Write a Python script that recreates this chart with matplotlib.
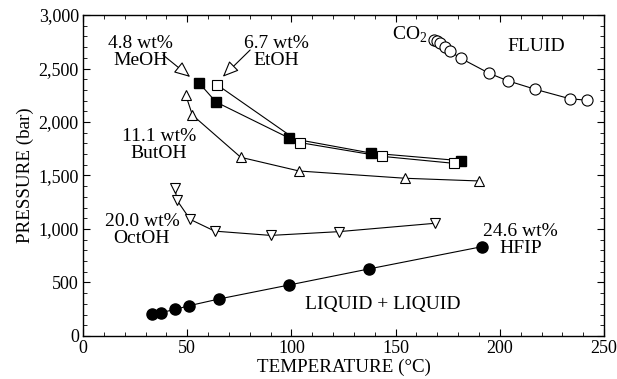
import matplotlib
matplotlib.use('Agg')
import matplotlib.pyplot as plt
from matplotlib.ticker import MultipleLocator, FuncFormatter

# Données (T en °C, P en bar)
meoh_t = [55.7, 63.8, 98.9, 138.1, 181.5]
meoh_p = [2365, 2187, 1850, 1710, 1638]

etoh_t = [64.5, 104.2, 143.4, 177.8]
etoh_p = [2346, 1807, 1679, 1614]

butoh_t = [49.3, 52.5, 75.7, 103.7, 154.7, 189.8]
butoh_p = [2252, 2065, 1670, 1542, 1474, 1449]

octoh_t = [44.2, 45.0, 51.4, 63.2, 90.1, 122.6, 168.7]
octoh_p = [1380, 1271, 1090, 980, 940, 975, 1053]

hfip_t = [32.9, 37.4, 44.3, 50.9, 65.3, 99.0, 137.0, 191.5]
hfip_p = [206, 218, 249, 283, 346, 477, 626, 835]

co2_t = [168.5, 170.0, 171.5, 173.8, 176.2, 181.3, 194.9, 203.7, 217.1, 233.5, 241.8]
co2_p = [2770, 2755, 2735, 2700, 2660, 2595, 2455, 2386, 2305, 2218, 2203]

plt.rcParams['font.family'] = ['Liberation Serif', 'DejaVu Serif']
plt.rcParams['font.size'] = 14

fig = plt.figure(figsize=(6.17, 3.79), dpi=100)
ax = fig.add_axes([0.1345, 0.1135, 0.979 - 0.1345, 0.9604 - 0.1135])

lw = 0.8
ax.plot(meoh_t, meoh_p, '-', color='black', lw=lw, marker='s', ms=7.5,
        mfc='black', mec='black', zorder=3)
ax.plot(etoh_t, etoh_p, '-', color='black', lw=lw, marker='s', ms=7.5,
        mfc='white', mec='black', mew=0.8, zorder=3)
ax.plot(butoh_t, butoh_p, '-', color='black', lw=lw, marker='^', ms=7,
        mfc='white', mec='black', mew=0.8, zorder=3)
ax.plot(octoh_t, octoh_p, '-', color='black', lw=lw, marker='v', ms=7,
        mfc='white', mec='black', mew=0.8, zorder=3)
ax.plot(hfip_t, hfip_p, '-', color='black', lw=lw, marker='o', ms=8,
        mfc='black', mec='black', zorder=3)
ax.plot(co2_t, co2_p, '-', color='black', lw=lw, marker='o', ms=8,
        mfc='white', mec='black', mew=0.8, zorder=3)

ax.set_xlim(0, 250)
ax.set_ylim(0, 3000)
ax.xaxis.set_major_locator(MultipleLocator(50))
ax.xaxis.set_minor_locator(MultipleLocator(10))
ax.yaxis.set_major_locator(MultipleLocator(500))
ax.yaxis.set_minor_locator(MultipleLocator(100))
ax.yaxis.set_major_formatter(FuncFormatter(lambda v, p: f"{int(v):,}"))
ax.tick_params(which='both', direction='in', top=True, right=True, labelsize=13)
ax.tick_params(which='major', length=5, width=0.8, pad=3)
ax.tick_params(which='minor', length=3, width=0.6)
for s in ax.spines.values():
    s.set_linewidth(1.0)

ax.set_xlabel('TEMPERATURE (°C)', fontsize=13.7, labelpad=1)
ax.set_ylabel('PRESSURE (bar)', fontsize=13.7, labelpad=3)

# Annotations
fleche = dict(arrowstyle='-|>,head_length=0.7,head_width=0.3', fc='white',
              ec='black', lw=0.8, shrinkA=0, shrinkB=0)
ax.text(27.4, 2654, '4.8 wt%\nMeOH', ha='center', va='center', linespacing=0.95)
ax.annotate('', xy=(51.4, 2421), xytext=(38.4, 2626), arrowprops=fleche)
ax.text(92.6, 2654, '6.7 wt%\nEtOH', ha='center', va='center', linespacing=0.95)
ax.annotate('', xy=(67.1, 2423), xytext=(80.2, 2673), arrowprops=fleche)
ax.text(36.5, 1785, '11.1 wt%\nButOH', ha='center', va='center', linespacing=0.95)
ax.text(28.3, 991, '20.0 wt%\nOctOH', ha='center', va='center', linespacing=0.95)
ax.text(209.8, 897, '24.6 wt%\nHFIP', ha='center', va='center', linespacing=0.95)
ax.text(143.8, 290, 'LIQUID + LIQUID', ha='center', va='center')
ax.text(217.3, 2704, 'FLUID', ha='center', va='center')
ax.text(148.2, 2773, r'CO$_\mathregular{2}$', ha='left', va='baseline')

plt.savefig('out.png', dpi=100)
